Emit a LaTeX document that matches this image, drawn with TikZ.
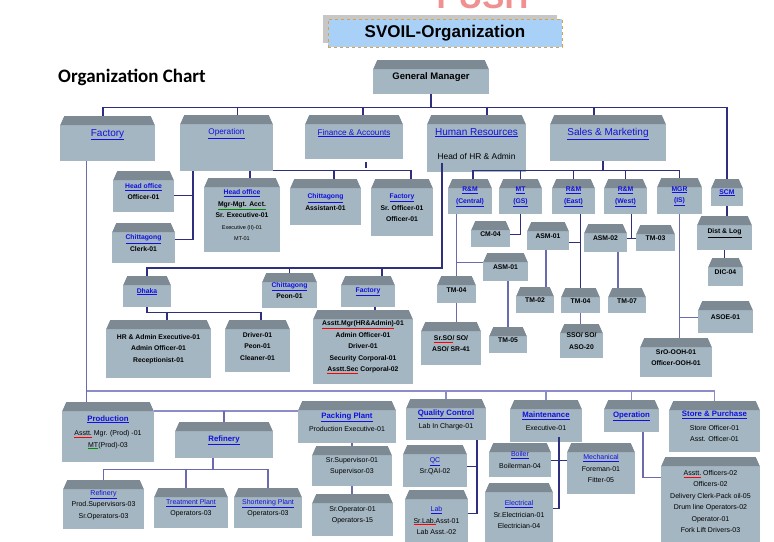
\documentclass[tikz,border=0pt]{standalone}
\usepackage{fontspec}
\setmainfont{Liberation Sans}
\newfontfamily\calibfont{Carlito}
\usetikzlibrary{calc,shadows}
\definecolor{boxbody}{HTML}{A4B6C2}
\definecolor{boxroof}{HTML}{7D8A93}
\definecolor{linkblue}{HTML}{1010E0}
\definecolor{navyline}{HTML}{2F2F80}
\definecolor{purpline}{HTML}{6A6AAE}
\definecolor{lavline}{HTML}{8C8CC8}
\definecolor{titleblue}{HTML}{A9D1F7}
\definecolor{titledash}{HTML}{E0A040}
\definecolor{pushred}{HTML}{F09090}
\newcommand\lnk[1]{\textcolor{linkblue}{\underline{#1}}}
\newcommand\hd[1]{{\fontsize{7.8}{11.5}\selectfont\bfseries\lnk{#1}}}
\newcommand\redsq[1]{{\color{red}$\underline{\hbox{\color{black}#1}}$}}
\newcommand\grnsq[1]{{\color{green!55!black}$\underline{\hbox{\color{black}#1}}$}}
\tikzset{
  obox/.style 2 args={rectangle, fill=boxbody, anchor=north, minimum width=#1pt, minimum height=#2pt,
    inner sep=1pt, align=center,
    path picture={
      \fill[boxroof] ([xshift=4pt]path picture bounding box.north west) -- ([xshift=-4pt]path picture bounding box.north east)
        -- ([yshift=-9pt]path picture bounding box.north east) -- ([yshift=-9pt]path picture bounding box.north west) -- cycle;
      \fill[white] (path picture bounding box.north west) -- ([xshift=4pt]path picture bounding box.north west)
        -- ([yshift=-9pt]path picture bounding box.north west) -- cycle;
      \fill[white] (path picture bounding box.north east) -- ([xshift=-4pt]path picture bounding box.north east)
        -- ([yshift=-9pt]path picture bounding box.north east) -- cycle;
    }},
  titlebox/.style={rectangle, fill=titleblue, draw=titledash, dashed, line width=1pt, minimum width=234pt,
    minimum height=28pt, drop shadow={shadow xshift=-5pt, shadow yshift=4pt, fill=black!22, opacity=1}},
  topfont/.style={font=\fontsize{10}{12}\selectfont},
  midfont/.style={font=\fontsize{6.8}{11.5}\selectfont\bfseries},
  lowfont/.style={font=\fontsize{7}{11.5}\selectfont},
  connA/.style={draw=navyline, line width=1.4pt},
  connB/.style={draw=purpline, line width=1.3pt},
  connC/.style={draw=lavline, line width=1.5pt}
}
\begin{document}
\begin{tikzpicture}[x=1pt,y=-1pt]
\useasboundingbox (0,0) rectangle (774,541);
\clip (0,0) rectangle (774,541);

\node[font=\fontsize{33}{36}\selectfont\bfseries, text=pushred, anchor=base, inner sep=0pt] (push) at (482.5,8) {PUSH};
\node[titlebox, font=\fontsize{17}{20}\selectfont\bfseries] (title) at (445,33) {SVOIL-Organization};
\node[font=\calibfont\bfseries\fontsize{19}{21}\selectfont, anchor=base west, inner sep=0pt] (charthead) at (58,82) {Organization Chart};

\node[obox={116}{34}, font=\fontsize{9.5}{11}\selectfont\bfseries] (gm) at (431,60) {General Manager};

\node[obox={95}{45}, topfont] (factory) at (107.5,116) {\lnk{Factory}\\\mbox{}};
\node[obox={93}{56}, font=\fontsize{8.2}{10}\selectfont] (operation) at (226.5,115) {\lnk{Operation}\\[13pt]\mbox{}};
\node[obox={98}{44}, font=\fontsize{8.2}{10}\selectfont] (finance) at (354,115) {\lnk{Finance \& Accounts}\\\mbox{}};
\node[obox={99}{57}, topfont] (hr) at (476.5,115) {\lnk{Human Resources}\\[12pt]{\fontsize{8.4}{10}\selectfont Head of HR \& Admin}};
\node[obox={116}{46}, topfont] (sales) at (608,115) {\lnk{Sales \& Marketing}\\\mbox{}};

\node[obox={61}{41}, midfont] (headoff) at (143.5,171) {\lnk{Head office}\\Officer-01};
\node[obox={63}{40}, midfont] (ctgclerk) at (143.5,223) {\lnk{Chittagong}\\Clerk-01};
\node[obox={76}{74}, midfont] (hoacct) at (242,178) {\lnk{Head office}\\\grnsq{Mgr-Mgt. Acct.}\\Sr. Executive-01\\
  {\fontsize{5.5}{11}\selectfont\mdseries Executive (II)-01}\\{\fontsize{5.5}{11}\selectfont\mdseries MT-01}};
\node[obox={71}{46}, midfont] (ctgasst) at (325.5,179) {\lnk{Chittagong}\\Assistant-01};
\node[obox={62}{57}, midfont] (facoff) at (402,179) {\lnk{Factory}\\Sr. Officer-01\\Officer-01};

\node[obox={48}{31}, midfont] (dhaka) at (147,276) {\lnk{Dhaka}};
\node[obox={55}{35}, midfont] (ctgpeon) at (289.5,273) {\lnk{Chittagong}\\Peon-01};
\node[obox={54}{31}, midfont] (fachr) at (368,276) {\lnk{Factory}};
\node[obox={105}{58}, midfont] (hrexec) at (158.5,320) {HR \& Admin Executive-01\\Admin Officer-01\\Receptionist-01};
\node[obox={65}{52}, midfont] (drivers) at (257.5,320) {Driver-01\\Peon-01\\Cleaner-01};
\node[obox={100}{74}, midfont] (facadm) at (363,310) {\redsq{Asstt.Mgr(HR\&Admin)}-01\\Admin Officer-01\\Driver-01\\
  Security Corporal-01\\\redsq{Asstt.Sec} Corporal-02};

\node[obox={44}{35}, midfont] (rmc) at (470,179) {\lnk{R\&M}\\\lnk{(Central)}};
\node[obox={43}{35}, midfont] (mt) at (520.5,179) {\lnk{MT}\\\lnk{(GS)}};
\node[obox={43}{35}, midfont] (rme) at (573.5,179) {\lnk{R\&M}\\\lnk{(East)}};
\node[obox={43}{35}, midfont] (rmw) at (625.5,179) {\lnk{R\&M}\\\lnk{(West)}};
\node[obox={45}{36}, midfont] (mgr) at (679.5,178) {\lnk{MGR}\\\lnk{(IS)}};
\node[obox={32}{27}, midfont] (scm) at (727,179) {\lnk{SCM}};
\node[obox={55}{34}, midfont] (dist) at (724.5,216) {\underline{Dist \& Log}};
\node[obox={35}{28}, midfont] (dic) at (725.5,258) {DIC-04};
\node[obox={39}{26}, midfont] (cm) at (490.5,221) {CM-04};
\node[obox={42}{28}, midfont] (asma) at (548,222) {ASM-01};
\node[obox={43}{28}, midfont] (asmb) at (605.5,224) {ASM-02};
\node[obox={39}{26}, midfont] (tmc) at (655.5,225) {TM-03};
\node[obox={45}{28}, midfont] (asmc) at (505.5,253) {ASM-01};
\node[obox={39}{27}, midfont] (tma) at (456.5,276) {TM-04};
\node[obox={60}{43}, midfont] (sso) at (451,322) {\redsq{Sr.SO}/ SO/\\ASO/ SR-41};
\node[obox={38}{26}, midfont] (tmb) at (508,327) {TM-05};
\node[obox={38}{26}, midfont] (tmd) at (535,287) {TM-02};
\node[obox={39}{25}, midfont] (tme) at (580.5,288) {TM-04};
\node[obox={43}{34}, midfont] (ssob) at (581.5,324) {SSO/ SO/\\ASO-20};
\node[obox={38}{25}, midfont] (tmf) at (627,288) {TM-07};
\node[obox={55}{32}, midfont] (asoe) at (725.5,301) {ASOE-01};
\node[obox={72}{39}, midfont] (ooh) at (676,338) {SrO-OOH-01\\Officer-OOH-01};

\node[obox={92}{60}, lowfont] (production) at (108,402) {\hd{Production}\\[3pt]\redsq{Asstt.} Mgr. (Prod) -01\\\grnsq{MT}(Prod)-03};
\node[obox={98}{36}, lowfont] (refinery) at (224,422) {\hd{Refinery}};
\node[obox={81}{49}, lowfont] (refsub) at (103.5,480) {\lnk{Refinery}\\Prod.Supervisors-03\\Sr.Operators-03};
\node[obox={74}{40}, lowfont] (treat) at (191,488) {\lnk{Treatment Plant}\\Operators-03};
\node[obox={68}{40}, lowfont] (short) at (268,488) {\lnk{Shortening Plant}\\Operators-03};
\node[obox={98}{42}, lowfont] (packing) at (347,401) {\hd{Packing Plant}\\[2pt]Production Executive-01};
\node[obox={80}{40}, lowfont] (supv) at (352,446) {Sr.Supervisor-01\\Supervisor-03};
\node[obox={81}{42}, lowfont] (oper) at (352.5,494) {Sr.Operator-01\\Operators-15};
\node[obox={80}{41}, lowfont] (qctl) at (446,399) {\hd{Quality Control}\\[2pt]Lab In Charge-01};
\node[obox={64}{42}, lowfont] (qc) at (435,445) {\lnk{QC}\\Sr.QAI-02};
\node[obox={63}{61}, lowfont] (lab) at (436.5,490) {\lnk{Lab}\\\redsq{Sr.Lab.}Asst-01\\Lab Asst.-02};
\node[obox={72}{42}, lowfont] (maint) at (546,400) {\hd{Maintenance}\\[2pt]Executive-01};
\node[obox={62}{34}, lowfont] (boiler) at (520,443) {\lnk{Boiler}\\Boilerman-04};
\node[obox={68}{51}, lowfont] (mech) at (601,443) {\lnk{Mechanical}\\Foreman-01\\Fitter-05};
\node[obox={68}{63}, lowfont] (elec) at (519,483) {\lnk{Electrical}\\Sr.Electrician-01\\Electrician-04};
\node[obox={55}{32}, lowfont] (opsb) at (631.5,400) {\hd{Operation}};
\node[obox={99}{89}, lowfont] (opbig) at (710.5,457) {\redsq{Asstt.} Officers-02\\Officers-02\\Delivery Clerk-Pack oil-05\\
  Drum line Operators-02\\Operator-01\\Fork Lift Drivers-03};
\node[obox={91}{51}, lowfont] (store) at (714.5,401) {\hd{Store \& Purchase}\\[2pt]Store Officer-01\\Asst. Officer-01};

\coordinate (topbus) at ([yshift=-13pt]gm.south);
\draw[connA] (gm.south) -- (topbus);
\draw[connA] ([xshift=-4.5pt]factory.north) |- (topbus -| scm.north) -- (scm.north);
\foreach \n/\s in {operation/11, finance/9, hr/10.5, sales/-14}
  \draw[connA] ([xshift=\s pt]\n.north) -- ([xshift=\s pt]\n.north |- topbus);

\coordinate (opl) at ([xshift=13pt]operation.south west);
\draw[connA] (opl) |- ([yshift=4pt]ctgclerk.east);
\draw[connA] ([yshift=-3.5pt]headoff.east) -- ([yshift=-3.5pt]headoff.east -| opl);
\draw[connA] ([xshift=23.5pt]operation.south) -- ([xshift=23.5pt]operation.south |- hoacct.north);
\coordinate (opbus) at ([yshift=1pt]operation.south east);
\draw[connA] (opbus) -| ([xshift=9pt]facoff.north);
\draw[connA] ([xshift=8.5pt]ctgasst.north) -- ([xshift=8.5pt]ctgasst.north |- opbus);
\draw[connA] ([xshift=12pt,yshift=-3pt]finance.south) -- ([xshift=12pt,yshift=-9pt]finance.south);

\coordinate (hrl) at ([xshift=-34.5pt,yshift=9pt]hr.south);
\coordinate (hrbus) at ([yshift=8pt]dhaka.north);
\draw[connA] (hrl) |- (hrbus) -- (dhaka.north);
\draw[connA] (ctgpeon.north) -- (ctgpeon.north |- hrbus);
\draw[connA] ([xshift=14pt]fachr.north) -- ([xshift=14pt]fachr.north |- hrbus);
\coordinate (dkbus) at ([yshift=-5pt]dhaka.south);
\draw[connA] (dhaka.south) -- (dkbus) -- ([xshift=3.5pt]drivers.north |- dkbus) -- ([xshift=3.5pt]drivers.north);
\draw[connA] ([xshift=8.5pt]hrexec.north) -- ([xshift=8.5pt]hrexec.north |- dkbus);
\draw[connA] ([xshift=7pt]fachr.south) -- ([xshift=7pt]fachr.south |- facadm.north);

\coordinate (salesbus) at ([yshift=-9pt]sales.south);
\draw[connA] ([xshift=-5pt]sales.south) -- ([xshift=-5pt]sales.south |- salesbus);
\draw[connA] ([xshift=3pt]rmc.north) |- (salesbus -| mgr.north) -- (mgr.north);
\foreach \n in {mt, rme, rmw}
  \draw[connA] (\n.north) -- (\n.north |- salesbus);
\draw[connA] (mt.south) |- (cm.east);
\draw[connB] (rmc.south -| tma.north) -- (tma.north);
\draw[connB] ([yshift=5pt]asmc.west) -- ([yshift=5pt]asmc.west -| tma.north);
\draw[connB] (tma.south) -- (tma.south |- sso.north);
\draw[connB] (tmb.north |- asmc.south) -- (tmb.north);
\draw[connA] (rme.south -| tme.north) -- (tme.north);
\draw[connA] ([yshift=-6pt]asma.east) -- ([yshift=-6pt]asma.east -| tme.north);
\draw[connB] ([xshift=-2pt]asma.south) -- ([xshift=-2pt]asma.south |- tmd.north);
\draw[connB] (tme.south) -- (tme.south |- ssob.north);
\coordinate (rmwj) at ($(asmb.east)!.5!(tmc.west)$);
\draw[connA] (rmw.south -| rmwj) -- (rmwj);
\draw[connA] (asmb.east) -- (tmc.west);
\draw[connB] ([xshift=12.5pt]asmb.south) -- ([xshift=12.5pt]asmb.south |- tmf.north);
\draw[connB] (mgr.south) -- (mgr.south |- ooh.north);
\draw[connB] (mgr.south |- asoe.west) -- (asoe.west);
\draw[connA] (scm.south) -- (scm.south |- dist.north);
\draw[connA] (dist.south) -- (dist.south |- dic.north);

\coordinate (lowbus) at ([yshift=11pt]production.north);
\draw[connB] ([xshift=-21pt]factory.south) -- ([xshift=-21pt]factory.south |- production.north);
\draw[connC] ([xshift=-21pt]factory.south |- lowbus) -- (lowbus -| store.north) -- (store.north);
\foreach \n in {qctl, maint, opsb}
  \draw[connC] (\n.north) -- (\n.north |- lowbus);
\coordinate (ppline) at ([yshift=-10pt]packing.north west);
\draw[connC] (production.east |- ppline) -- (ppline);
\draw[connB] (refinery.north) -- (refinery.north |- ppline);
\coordinate (refj) at ([xshift=-11pt]refinery.south);
\coordinate (refbus) at ([yshift=-11pt]refj);
\draw[connB] (refj) -- (refbus);
\draw[connB] (refsub.north) |- (short.north |- refbus) -- (short.north);
\draw[connB] ([xshift=-5pt]treat.north) -- ([xshift=-5pt]treat.north |- refbus);
\draw[connB] (supv.north) -- (supv.north |- packing.south);
\draw[connB] (supv.south) -- (supv.south |- oper.north);
\coordinate (qcv) at ([xshift=31pt]qctl.south);
\draw[connA] (qcv) |- ([yshift=7pt]lab.east);
\draw[connA] (qc.east) -- (qc.east -| qcv);
\coordinate (mtv) at ([xshift=13pt,yshift=5pt]maint.south);
\draw[connA] (mtv) |- ([yshift=6pt]elec.east);
\draw[connA] (boiler.east) -- (boiler.east -| mech.west);
\coordinate (opv) at ([xshift=11.5pt]opsb.south);
\draw[connB] (opv) |- ([yshift=24.5pt]opbig.west);
\end{tikzpicture}
\end{document}
